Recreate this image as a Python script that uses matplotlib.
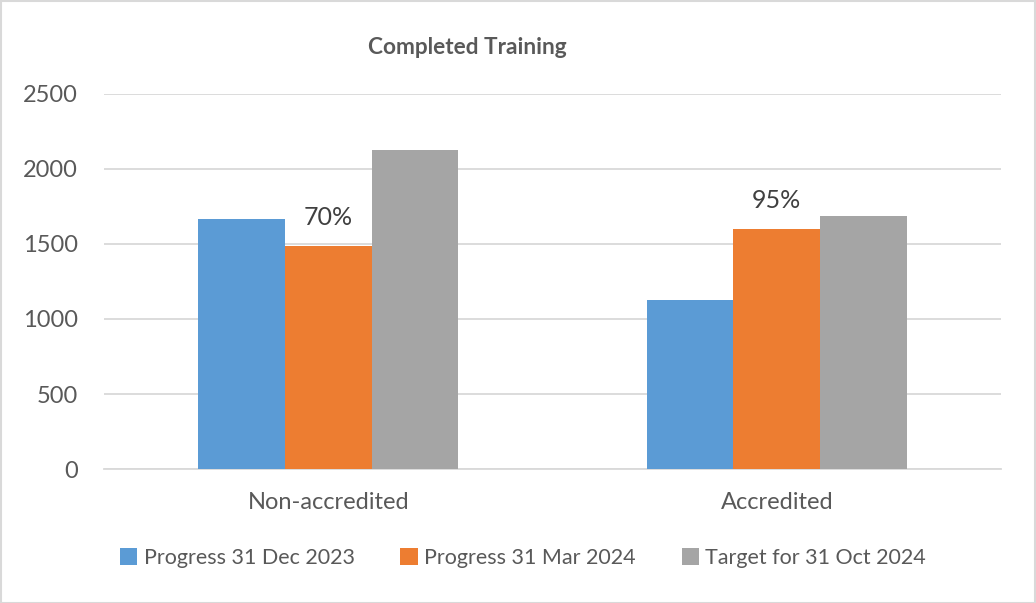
import matplotlib
matplotlib.use("Agg")
import matplotlib.pyplot as plt
from matplotlib.patches import Rectangle
import numpy as np

categories = ["Non-accredited", "Accredited"]
series_names = ["Progress 31 Dec 2023", "Progress 31 Mar 2024", "Target for 31 Oct 2024"]
dec2023 = [1664, 1127]
mar2024 = [1483, 1598]
target = [2122, 1684]
pct_labels = ["70%", "95%"]
yticks = [0, 500, 1000, 1500, 2000, 2500]

colors = ["#5B9BD5", "#ED7D31", "#A5A5A5"]
plt.rcParams['font.family'] = ['Lato', 'DejaVu Sans']

W, H = 1036, 603
fig = plt.figure(figsize=(W/100, H/100), dpi=100)
ax = fig.add_axes([104/W, 1-469.3/H, (1001-104)/W, (469.3-93.5)/H])

x = np.arange(len(categories))
bw = 0.193
series = [dec2023, mar2024, target]
for i, (vals, c, name) in enumerate(zip(series, colors, series_names)):
    ax.bar(x + (i-1)*bw, vals, width=bw, color=c, label=name, edgecolor='none', zorder=3)

for xi, v, lab in zip(x, mar2024, pct_labels):
    ax.annotate(lab, (xi, v), xytext=(0, 12.5), textcoords='offset points',
                ha='center', va='bottom', fontsize=18, color='#404040')

ax.set_xlim(-0.5, 1.5)
ax.set_ylim(0, 2500)
ax.set_yticks(yticks)
ax.set_xticks(x)
ax.set_xticklabels(categories)
ax.tick_params(axis='both', length=0, labelsize=17, colors='#595959')
ax.tick_params(axis='y', pad=19)
ax.tick_params(axis='x', pad=16)
ax.grid(axis='y', color='#D9D9D9', linewidth=1.3, zorder=0)
for s in ['top', 'right', 'left']:
    ax.spines[s].set_visible(False)
ax.spines['bottom'].set_color('#D9D9D9')
ax.spines['bottom'].set_linewidth(1.3)

fig.text(467/W, 1-47.5/H, "Completed Training", ha='center', va='center',
         fontsize=16.3, fontweight='bold', color='#595959')

leg = fig.legend(loc='center', bbox_to_anchor=(523/W, 1-558/H), ncol=3, frameon=False,
                 fontsize=15.5, handlelength=0.8, handleheight=0.8, handletextpad=0.3,
                 columnspacing=2.13, labelcolor='#595959')

fig.patches.append(Rectangle((0.5/W, 0.5/H), 1-1.5/W, 1-1.5/H, transform=fig.transFigure,
                             fill=False, edgecolor='#D9D9D9', linewidth=1.5))

fig.savefig("out.png", dpi=100)
